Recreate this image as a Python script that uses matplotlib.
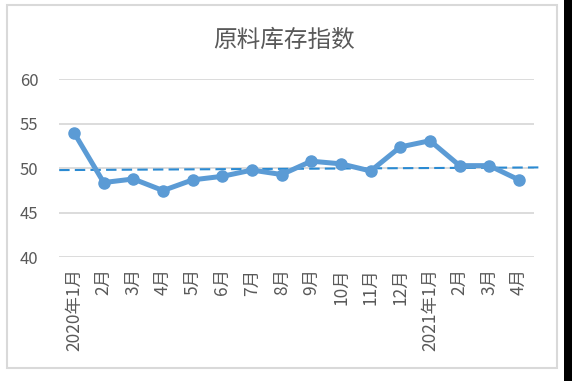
import matplotlib
matplotlib.use("Agg")
import matplotlib.pyplot as plt
from matplotlib.patches import Rectangle

plt.rcParams['font.family'] = ['Noto Sans CJK SC', 'DejaVu Sans']

# 原料库存指数, 2020年1月 - 2021年4月
months = ['2020年1月', '2月', '3月', '4月', '5月', '6月', '7月', '8月', '9月',
          '10月', '11月', '12月', '2021年1月', '2月', '3月', '4月']
index_vals = [54.0, 48.4, 48.8, 47.5, 48.7, 49.1, 49.8, 49.3, 50.8,
              50.5, 49.7, 52.4, 53.1, 50.3, 50.3, 48.7]
trend_x = [-0.5, 15.75]
trend_y = [49.8, 50.1]

W, H = 572, 381
fig = plt.figure(figsize=(W / 100, H / 100), dpi=100)
ax = fig.add_axes([59.2 / W, 1 - 257.3 / H, (533.8 - 59.2) / W, (257.3 - 79.3) / H])

x = list(range(len(months)))
ax.plot(trend_x, trend_y, color='#2a8ad2', lw=1.5, dashes=(5, 2.5), clip_on=False, zorder=2)
ax.plot(x, index_vals, color='#5b9bd5', lw=3.6, marker='o', ms=8,
        solid_joinstyle='round', zorder=3)

ax.set_xlim(-0.5, 15.5)
ax.set_ylim(40, 60)
ax.set_yticks([40, 45, 50, 55, 60])
ax.set_xticks(x)
ax.set_xticklabels(months, rotation=90, fontsize=12.5, color='#595959')
ax.tick_params(axis='x', length=0, pad=8)
ax.tick_params(axis='y', length=0, pad=15, labelsize=12, labelcolor='#595959')
ax.grid(axis='y', color='#d9d9d9', lw=1.3)
ax.set_axisbelow(True)
for s in ax.spines.values():
    s.set_visible(False)

fig.text(283.6 / W, 1 - 40 / H, '原料库存指数', ha='center', va='center',
         fontsize=17, color='#595959')

# chart border and dark strip at the right edge
fig.patches.append(Rectangle((7 / W, 1 - 368 / H), 550 / W, 363 / H,
                             transform=fig.transFigure, fill=False,
                             edgecolor='#d9d9d9', lw=1.5))
fig.patches.append(Rectangle((564 / W, 0), 8 / W, 1, transform=fig.transFigure,
                             facecolor='black', edgecolor='none'))

fig.savefig('out.png', dpi=100)
